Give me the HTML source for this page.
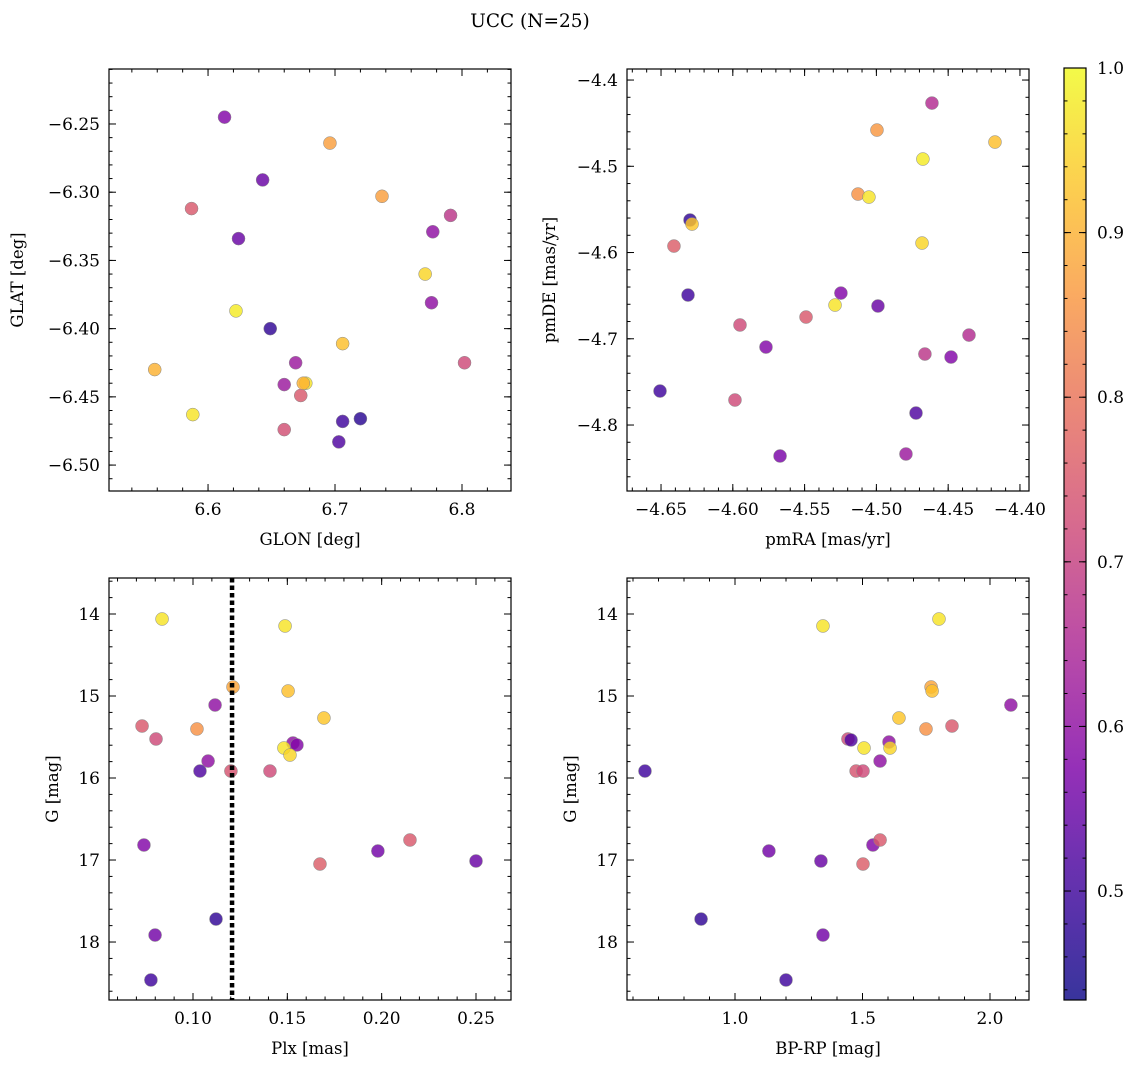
<!DOCTYPE html>
<html><head><meta charset="utf-8"><style>
body{margin:0;background:#fff;}
svg text{font-family:"DejaVu Serif","Liberation Serif",serif;fill:#000;}
</style></head><body>
<svg id="fig" width="1136" height="1068" viewBox="0 0 1136 1068" xmlns="http://www.w3.org/2000/svg">
<text x="530" y="27" font-size="18.5" text-anchor="middle">UCC (N=25)</text>
</svg>
<script>
// Panel 1: GLON vs GLAT
const p1Glon=[6.613,6.696,6.643,6.587,6.737,6.791,6.624,6.777,6.771,6.622,6.776,6.649,6.706,6.669,6.802,6.558,6.660,6.677,6.673,6.588,6.660,6.706,6.720,6.703,6.675];
const p1Glat=[-6.245,-6.264,-6.291,-6.312,-6.303,-6.317,-6.334,-6.329,-6.360,-6.387,-6.381,-6.400,-6.411,-6.425,-6.425,-6.430,-6.441,-6.440,-6.449,-6.463,-6.474,-6.468,-6.466,-6.483,-6.440];
const p1Prob=[0.58,0.87,0.55,0.75,0.87,0.68,0.55,0.60,0.95,0.98,0.60,0.48,0.92,0.62,0.72,0.90,0.62,0.97,0.75,0.97,0.73,0.50,0.47,0.52,0.90];
// Panel 2: pmRA vs pmDE
const p2Pmra=[-4.4613,-4.4996,-4.4174,-4.4676,-4.5128,-4.5052,-4.6298,-4.6284,-4.641,-4.4682,-4.6312,-4.5247,-4.5288,-4.4989,-4.549,-4.595,-4.5769,-4.4355,-4.4662,-4.448,-4.6507,-4.5985,-4.4724,-4.5671,-4.4794];
const p2Pmde=[-4.4267,-4.458,-4.4719,-4.4916,-4.5322,-4.5357,-4.5623,-4.567,-4.5925,-4.589,-4.6493,-4.647,-4.6609,-4.662,-4.6748,-4.684,-4.7096,-4.6957,-4.7177,-4.7212,-4.7606,-4.771,-4.7861,-4.8359,-4.8336];
const p2Prob=[0.66,0.86,0.92,0.98,0.85,0.97,0.48,0.93,0.76,0.95,0.50,0.58,0.97,0.55,0.75,0.72,0.58,0.66,0.68,0.58,0.50,0.72,0.52,0.57,0.62];
// Panel 3 & 4: shared G / prob
const gMag=[14.061,14.146,14.89,14.939,15.11,15.268,15.366,15.402,15.524,15.573,15.597,15.634,15.72,15.793,15.915,15.915,15.915,16.817,16.756,16.89,17.049,17.012,17.72,17.915,18.463];
const p3Plx=[0.0836,0.1488,0.1212,0.1504,0.1117,0.1694,0.073,0.1021,0.0804,0.153,0.1551,0.1482,0.1514,0.108,0.1037,0.1201,0.1408,0.074,0.215,0.198,0.1673,0.25,0.1122,0.0799,0.0777];
const p3Prob=[0.97,0.97,0.88,0.92,0.60,0.93,0.75,0.85,0.72,0.60,0.58,0.97,0.95,0.60,0.52,0.74,0.72,0.58,0.75,0.56,0.76,0.55,0.48,0.56,0.50];
const p4G=[14.061,14.146,14.89,14.939,15.11,15.268,15.366,15.402,15.524,15.536,15.561,15.634,15.634,15.793,15.915,15.915,15.915,16.817,16.756,16.89,17.049,17.012,17.72,17.915,18.463];
const p4Bprp=[1.8,1.345,1.769,1.773,2.082,1.643,1.851,1.749,1.443,1.455,1.604,1.506,1.608,1.569,0.647,1.475,1.502,1.541,1.569,1.133,1.502,1.337,0.867,1.345,1.2];
const p4Prob=[0.97,0.97,0.88,0.92,0.60,0.93,0.75,0.85,0.72,0.52,0.60,0.97,0.95,0.60,0.50,0.74,0.72,0.58,0.75,0.56,0.76,0.55,0.48,0.56,0.50];
const plxLine=[0.1207];
const cbTicks=[0.5,0.6,0.7,0.8,0.9,1.0];

const NS="http://www.w3.org/2000/svg";
const svg=document.getElementById('fig');
const VMIN=0.4338,VMAX=1.0;
const stops=[[0,[13,8,135]],[0.125,[65,4,157]],[0.25,[126,3,168]],[0.375,[170,35,149]],[0.5,[204,71,120]],[0.625,[229,107,93]],[0.75,[248,149,64]],[0.875,[253,196,39]],[1,[240,249,33]]];
function plasma(v){let t=Math.max(0,Math.min(1,(v-VMIN)/(VMAX-VMIN)));
 for(let i=1;i<stops.length;i++){if(t<=stops[i][0]){const a=stops[i-1],b=stops[i];const f=(t-a[0])/(b[0]-a[0]);
 const c=a[1].map((x,k)=>Math.round(x+(b[1][k]-x)*f));return `rgb(${c[0]},${c[1]},${c[2]})`;}}return 'rgb(240,249,33)';}
function el(tag,attrs,parent){const e=document.createElementNS(NS,tag);for(const k in attrs)e.setAttribute(k,attrs[k]);(parent||svg).appendChild(e);return e;}
function fmt(v,d){const s=Math.abs(v).toFixed(d);return (v<-1e-9?'\u2212':'')+s;}

function panel(name,box,xr,yr,xMaj,xMin,xDec,yMaj,yMin,yDec,xs,ys,cs,xlabel,ylabel,ylabX,invertY){
 const g=el('g',{});
 
 
 const [L,T,R,B]=box;
 const sx=v=>L+(v-xr[0])/(xr[1]-xr[0])*(R-L);
 const sy=v=>invertY? T+(v-yr[0])/(yr[1]-yr[0])*(B-T) : B-(v-yr[0])/(yr[1]-yr[0])*(B-T);
 for(let i=0;i<xs.length;i++){
  const c=el('circle',{cx:sx(xs[i]),cy:sy(ys[i]),r:6.5,fill:plasma(cs[i]),'fill-opacity':0.82,stroke:'#888','stroke-width':0.5},g);
  
  
 }
 const tk=el('g',{stroke:'#000','stroke-width':1},g);
 function xt(step,len,lab){const s=Math.ceil(xr[0]/step-1e-6);for(let k=s;k*step<=xr[1]+1e-9;k++){const v=k*step,x=sx(v);
  el('line',{x1:x,y1:B,x2:x,y2:B-len},tk);el('line',{x1:x,y1:T,x2:x,y2:T+len},tk);
  if(lab){const t=el('text',{x:x,y:B+24,'font-size':17,'text-anchor':'middle'},g);t.textContent=fmt(v,xDec);
  }}}
 function yt(step,len,lab){const s=Math.ceil(Math.min(yr[0],yr[1])/step-1e-6);const mx=Math.max(yr[0],yr[1]);for(let k=s;k*step<=mx+1e-9;k++){const v=k*step,y=sy(v);
  el('line',{x1:L,y1:y,x2:L+len,y2:y},tk);el('line',{x1:R,y1:y,x2:R-len,y2:y},tk);
  if(lab){const t=el('text',{x:L-9,y:y+6,'font-size':17,'text-anchor':'end'},g);t.textContent=fmt(v,yDec);
  }}}
 xt(xMin,3.5,false);xt(xMaj,7,true);yt(yMin,3.5,false);yt(yMaj,7,true);
 el('rect',{x:L,y:T,width:R-L,height:B-T,fill:'none',stroke:'#000','stroke-width':1.2},g);
 const xl=el('text',{x:(L+R)/2,y:B+54,'font-size':16.5,'text-anchor':'middle'},g);xl.textContent=xlabel;
 
 const cy=(T+B)/2;const yl=el('text',{x:ylabX,y:cy,'font-size':16.5,'text-anchor':'middle',transform:`rotate(-90 ${ylabX} ${cy})`},g);yl.textContent=ylabel;
 
 return {sx,sy,g};
}
panel('glon-glat-panel',[109,69,511,491],[6.522,6.8386],[-6.519,-6.2097],0.1,0.02,1,0.05,0.01,2,p1Glon,p1Glat,p1Prob,'GLON [deg]','GLAT [deg]',23,false);
panel('pm-panel',[627,69,1029,491],[-4.6737,-4.3937],[-4.8765,-4.3872],0.05,0.01,2,0.1,0.02,1,p2Pmra,p2Pmde,p2Prob,'pmRA [mas/yr]','pmDE [mas/yr]',555,false);
const p3=panel('plx-g-panel',[109,578,511,1000],[0.05548,0.26855],[13.561,18.707],0.05,0.01,2,1,0.2,0,p3Plx,gMag,p3Prob,'Plx [mas]','G [mag]',58,true);
plxLine.forEach(v=>{const l=el('line',{x1:p3.sx(v),y1:578,x2:p3.sx(v),y2:1000,stroke:'#000','stroke-width':4.5,'stroke-dasharray':'4.5,3'},p3.g);
 
 });
panel('color-mag-panel',[627,578,1029,1000],[0.5765,2.153],[13.561,18.707],0.5,0.1,1,1,0.2,0,p4Bprp,p4G,p4Prob,'BP-RP [mag]','G [mag]',576,true);

const cb=el('g',{});


const CL=1064,CR=1086,CT=68,CB=1000;
const defs=el('defs',{},cb);const lg=el('linearGradient',{id:'cbg',x1:0,y1:1,x2:0,y2:0},defs);
for(let i=0;i<=20;i++){const v=VMIN+(VMAX-VMIN)*i/20;el('stop',{offset:i/20,'stop-color':plasma(v),'stop-opacity':0.82},lg);}
el('rect',{x:CL,y:CT,width:CR-CL,height:CB-CT,fill:'url(#cbg)',stroke:'#000','stroke-width':1.2},cb);
const cy=v=>CB-(v-VMIN)/(VMAX-VMIN)*(CB-CT);
for(let k=22;k<=50;k++){const v=k*0.02;if(v<VMIN)continue;const y=cy(v);el('line',{x1:CR,y1:y,x2:CR-3.5,y2:y,stroke:'#000'},cb);el('line',{x1:CL,y1:y,x2:CL+3.5,y2:y,stroke:'#000'},cb);}
cbTicks.forEach(v=>{const y=cy(v);el('line',{x1:CR,y1:y,x2:CR-7,y2:y,stroke:'#000'},cb);el('line',{x1:CL,y1:y,x2:CL+7,y2:y,stroke:'#000'},cb);
 const t=el('text',{x:CR+11,y:y+6,'font-size':17},cb);t.textContent=v.toFixed(1);
 
 });
</script>
</body></html>
